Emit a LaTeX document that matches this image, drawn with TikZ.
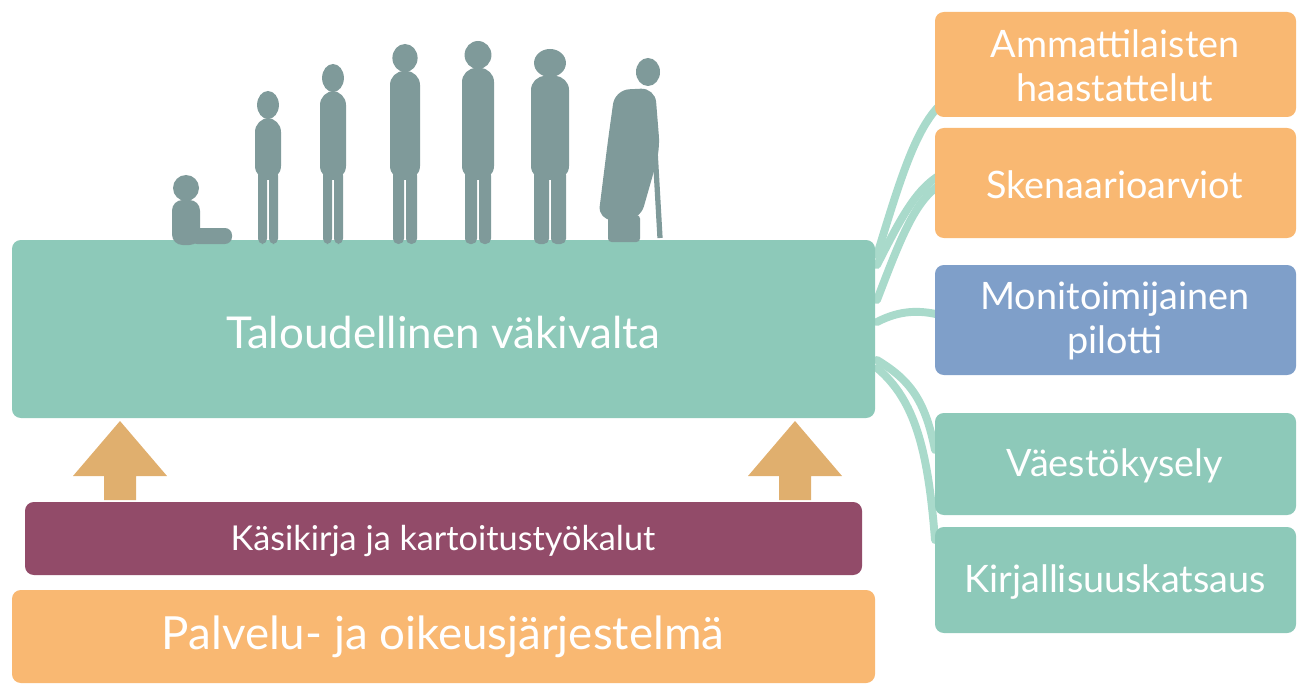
\documentclass[tikz,border=0pt]{standalone}
\usepackage{fontspec}
\setmainfont{Lato}
\begin{document}
\begin{tikzpicture}[x=0.02cm,y=-0.02cm,
  box/.style={rounded corners=5pt,draw=none},
  txt/.style={text=white,align=center,font=\fontsize{21.5}{25}\selectfont},
  link/.style={draw=linkc,line width=4.5pt,line cap=round},
  person/.style={fill=figc,draw=none}]
\definecolor{green}{HTML}{8DC9B9}
\definecolor{orange}{HTML}{F9B872}
\definecolor{blue}{HTML}{7F9FC9}
\definecolor{purple}{HTML}{924B69}
\definecolor{arrowc}{HTML}{E0AF6E}
\definecolor{linkc}{HTML}{A9DACB}
\definecolor{figc}{HTML}{7F9A9A}
\useasboundingbox (0,0) rectangle (1314,689);
% connectors
\draw[link] (877,255) .. controls (900,180) and (915,130) .. (940,105);
\draw[link] (877,265) .. controls (900,220) and (915,190) .. (940,175);
\draw[link] (877,300) .. controls (900,240) and (915,200) .. (940,185);
\draw[link] (877,322) .. controls (900,310) and (920,310) .. (940,315);
\draw[link] (877,360) .. controls (910,380) and (925,400) .. (935,450);
\draw[link] (877,368) .. controls (915,400) and (928,450) .. (935,540);
% main box
\fill[green,box] (12,240) rectangle (875,418);
\node[txt,font=\fontsize{25}{30}\selectfont] (main) at (443,332) {Taloudellinen väkivalta};
% right boxes
\fill[orange,box] (935,12) rectangle (1296,117);
\node[txt] (b1) at (1115,66) {Ammattilaisten\\haastattelut};
\fill[orange,box] (935,128) rectangle (1296,238);
\node[txt] (b2) at (1115,185) {Skenaarioarviot};
\fill[blue,box] (935,265) rectangle (1296,375);
\node[txt] (b3) at (1115,321) {Monitoimijainen\\pilotti};
\fill[green,box] (935,413) rectangle (1296,515);
\node[txt] (b4) at (1115,466) {Väestökysely};
\fill[green,box] (935,527) rectangle (1296,633);
\node[txt] (b5) at (1115,582) {Kirjallisuuskatsaus};
% arrows
\foreach \cx in {120,795}{
  \fill[arrowc] (\cx-16,500) -- (\cx-16,476) -- (\cx-47,476) -- (\cx,421) -- (\cx+47,476) -- (\cx+16,476) -- (\cx+16,500) -- cycle;}
% bottom boxes
\fill[purple,box] (25,502) rectangle (862,575);
\node[txt,font=\fontsize{19.5}{23}\selectfont] (k) at (443,541) {Käsikirja ja kartoitustyökalut};
\fill[orange,box] (12,590) rectangle (875,683);
\node[txt,font=\fontsize{26}{30}\selectfont] (p) at (443,637) {Palvelu- ja oikeusjärjestelmä};
% silhouettes
\fill[person] (186,188) circle (13);
\fill[person,rounded corners=6pt] (172,200) rectangle (200,245);
\fill[person,rounded corners=4pt] (190,228) rectangle (232,244);
\foreach \x/\t/\w in {268/92/26,333/65/26,405/45/30,478/42/32,550/50/38}{
  \fill[person] (\x,\t+13) ellipse ({\w*0.42} and 14);
  \fill[person,rounded corners=8pt] (\x-\w/2,\t+26) rectangle (\x+\w/2,180);
  \fill[person,rounded corners=3pt] (\x-\w/2+3,170) rectangle (\x-1,244);
  \fill[person,rounded corners=3pt] (\x+1,170) rectangle (\x+\w/2-3,244);
}
\fill[person] (648,72) ellipse (12 and 14);
\fill[person,rounded corners=8pt] (615,90) -- (655,88) -- (660,150) -- (640,220) -- (598,220) -- (608,140) -- cycle;
\fill[person,rounded corners=2pt] (608,215) rectangle (640,242);
\draw[figc,line width=3pt] (655,150) -- (660,238);
\end{tikzpicture}
\end{document}
